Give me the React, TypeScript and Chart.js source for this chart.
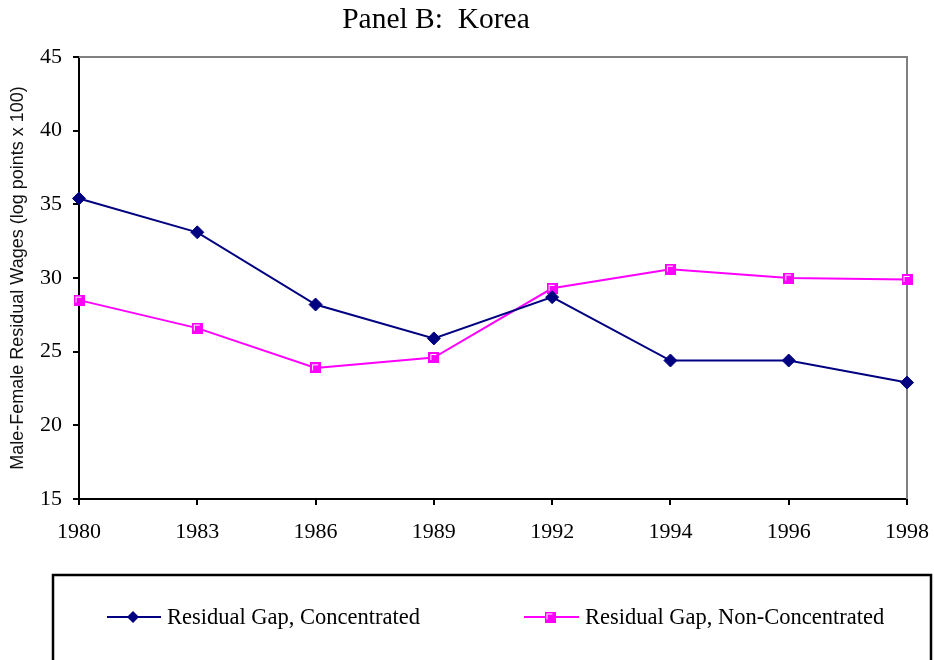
import React, { useEffect, useRef } from "react";
import { Chart, registerables } from "chart.js";

Chart.register(...registerables);

const years = ["1980", "1983", "1986", "1989", "1992", "1994", "1996", "1998"];
const concentrated = [35.4, 33.1, 28.2, 25.9, 28.7, 24.4, 24.4, 22.9];
const nonConcentrated = [28.5, 26.6, 23.9, 24.6, 29.3, 30.6, 30.0, 29.9];
const yTicks = [15, 20, 25, 30, 35, 40, 45];
const seriesLabels = ["Residual Gap, Concentrated", "Residual Gap, Non-Concentrated"];
const titleText = "Panel B:  Korea";
const yTitle = "Male-Female Residual Wages (log points x 100)";

const NAVY = "#000080";
const MAGENTA = "#FF00FF";
const SERIF = '"Liberation Serif", "Times New Roman", serif';
const SANS = '"Liberation Sans", Arial, sans-serif';

function makeSquareMarker(): HTMLCanvasElement {
  const c = document.createElement("canvas");
  c.width = 11;
  c.height = 11;
  const g = c.getContext("2d")!;
  g.fillStyle = MAGENTA;
  g.fillRect(0, 0, 11, 11);
  g.fillStyle = "#FFFFFF";
  g.fillRect(2, 2, 6, 1);
  g.fillRect(2, 2, 1, 6);
  return c;
}

export default function App() {
  const ref = useRef<HTMLCanvasElement | null>(null);

  useEffect(() => {
    document.body.style.margin = "0";
    const canvas = ref.current;
    if (!canvas) return;
    const square = makeSquareMarker();

    const decor = {
      id: "decor",
      beforeDatasetsDraw(chart: any) {
        const { ctx, chartArea: a } = chart;
        ctx.save();
        ctx.strokeStyle = "#808080";
        ctx.lineWidth = 2;
        ctx.beginPath();
        ctx.moveTo(a.left, a.top);
        ctx.lineTo(a.right, a.top);
        ctx.lineTo(a.right, a.bottom);
        ctx.stroke();
        ctx.restore();
      },
      afterDraw(chart: any) {
        const { ctx } = chart;
        ctx.save();
        // title
        ctx.fillStyle = "#000";
        ctx.font = `29.5px ${SERIF}`;
        ctx.textAlign = "center";
        ctx.textBaseline = "alphabetic";
        ctx.fillText(titleText, 436, 28);

        // legend box
        ctx.strokeStyle = "#000";
        ctx.lineWidth = 2.5;
        ctx.strokeRect(53, 575, 878, 110);

        const ly = 617;
        const ds = chart.data.datasets;
        // entry 1
        ctx.strokeStyle = NAVY;
        ctx.lineWidth = 2;
        ctx.beginPath();
        ctx.moveTo(107, ly);
        ctx.lineTo(161, ly);
        ctx.stroke();
        ctx.fillStyle = NAVY;
        ctx.beginPath();
        ctx.moveTo(133, ly - 6);
        ctx.lineTo(139, ly);
        ctx.lineTo(133, ly + 6);
        ctx.lineTo(127, ly);
        ctx.closePath();
        ctx.fill();
        // entry 2
        ctx.strokeStyle = MAGENTA;
        ctx.beginPath();
        ctx.moveTo(524, ly);
        ctx.lineTo(579, ly);
        ctx.stroke();
        ctx.drawImage(square, 550 - 5.5, ly - 5.5);

        ctx.fillStyle = "#000";
        ctx.font = `22.5px ${SERIF}`;
        ctx.textAlign = "left";
        ctx.textBaseline = "middle";
        ctx.fillText(ds[0].label, 167, ly + 1);
        ctx.fillText(ds[1].label, 585, ly + 1);
        ctx.restore();
      },
    };

    const chart = new Chart(canvas, {
      type: "line",
      data: {
        labels: years,
        datasets: [
          {
            label: seriesLabels[0],
            data: concentrated,
            borderColor: NAVY,
            backgroundColor: NAVY,
            borderWidth: 2,
            pointStyle: "rectRot",
            pointRadius: 6.5,
            pointBorderWidth: 1,
            pointBackgroundColor: NAVY,
            pointBorderColor: NAVY,
            tension: 0,
            clip: false,
          },
          {
            label: seriesLabels[1],
            data: nonConcentrated,
            borderColor: MAGENTA,
            backgroundColor: MAGENTA,
            borderWidth: 2,
            pointStyle: square as any,
            pointRadius: 6,
            tension: 0,
            clip: false,
          },
        ],
      },
      plugins: [decor],
      options: {
        animation: false,
        responsive: false,
        layout: { padding: { left: 0, top: 57, right: 27, bottom: 0 } },
        plugins: {
          legend: { display: false },
          title: { display: false },
          tooltip: { enabled: false },
        },
        scales: {
          x: {
            type: "category",
            offset: false,
            grid: {
              drawOnChartArea: false,
              drawTicks: true,
              tickLength: 6,
              tickColor: "#000",
              lineWidth: 2,
            },
            border: { display: true, color: "#000", width: 2 },
            ticks: {
              color: "#000",
              font: { family: SERIF, size: 22 },
              padding: 14,
              maxRotation: 0,
              autoSkip: false,
            },
            afterFit: (s: any) => {
              s.height = 161;
              s.paddingRight = 0;
              s.paddingLeft = 0;
            },
          },
          y: {
            type: "linear",
            min: 15,
            max: 45,
            grid: {
              drawOnChartArea: false,
              drawTicks: true,
              tickLength: 6,
              tickColor: "#000",
              lineWidth: 2,
            },
            border: { display: true, color: "#000", width: 2 },
            ticks: {
              color: "#000",
              font: { family: SERIF, size: 22 },
              padding: 11,
            },
            afterBuildTicks: (s: any) => {
              s.ticks = yTicks.map((v) => ({ value: v }));
            },
            title: {
              display: true,
              text: yTitle,
              color: "#111",
              font: { family: SANS, size: 18 },
              padding: { top: 7, bottom: 0 },
            },
            afterFit: (s: any) => {
              s.width = 79;
              s.paddingTop = 0;
              s.paddingBottom = 0;
            },
          },
        },
      },
    });
    return () => chart.destroy();
  }, []);

  return (
    <div style={{ position: "absolute", left: 0, top: 0, width: 934, height: 660, background: "#fff" }}>
      <canvas ref={ref} width={934} height={660} style={{ display: "block", width: 934, height: 660 }} />
    </div>
  );
}
